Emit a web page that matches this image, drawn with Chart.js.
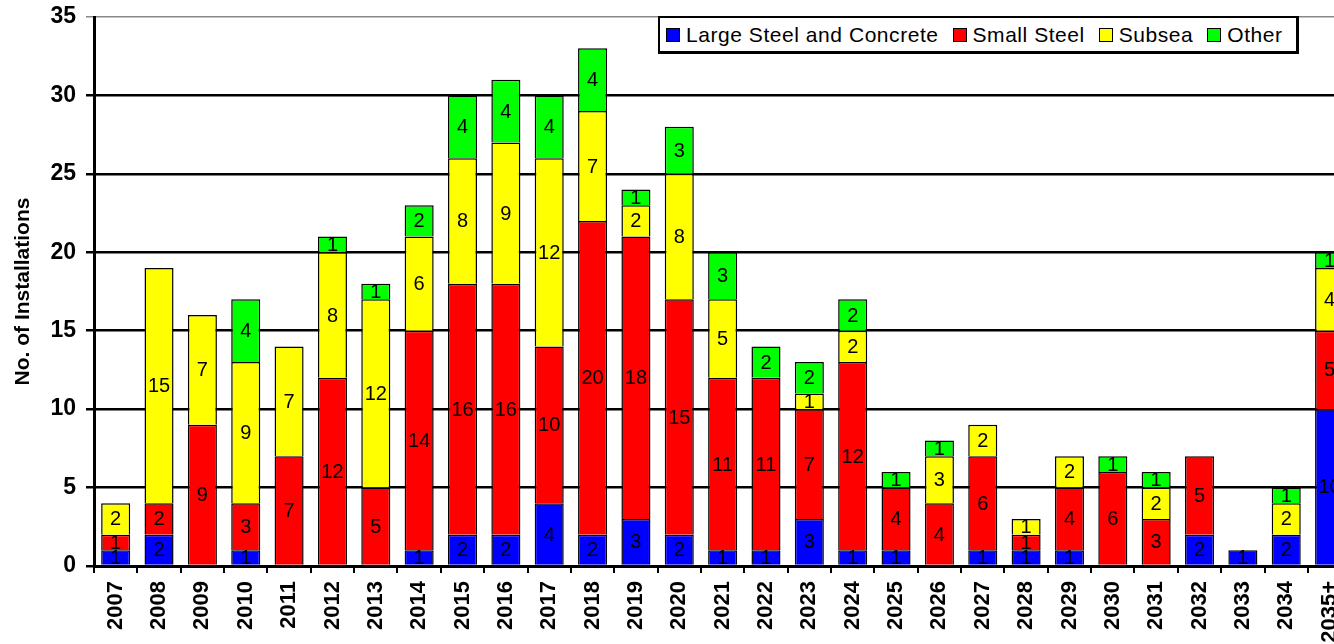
<!DOCTYPE html>
<html>
<head>
<meta charset="utf-8">
<script src="https://cdn.jsdelivr.net/npm/chart.js@4"></script>
<style>
  html, body { margin: 0; padding: 0; background: #fff; overflow: hidden; width: 1334px; height: 644px; }
  #wrap { position: relative; width: 1364px; height: 644px; }
  #legend {
    position: absolute; left: 658px; top: 16px; height: 33px; width: 630px;
    border: 2px solid #000; border-right-width: 3px; border-bottom-width: 3px;
    background: #fff; display: flex; align-items: center; box-sizing: content-box;
    font-family: "Liberation Sans", Arial, sans-serif; font-size: 21px; letter-spacing: 0.55px; color: #000;
    padding-left: 6px;
  }
  .item { display: flex; align-items: center; margin-right: 14px; white-space: nowrap; }
  .sw { width: 12px; height: 12px; border: 1px solid #000; margin-right: 6px; }
</style>
</head>
<body>
<div id="wrap">
  <canvas id="c" width="1364" height="644"></canvas>
  <div id="legend"></div>
</div>
<script>
const categories = ["2007","2008","2009","2010","2011","2012","2013","2014","2015","2016","2017","2018","2019","2020","2021","2022","2023","2024","2025","2026","2027","2028","2029","2030","2031","2032","2033","2034","2035+"];
const largeSteelConcrete = [1,2,0,1,0,0,0,1,2,2,4,2,3,2,1,1,3,1,1,0,1,1,1,0,0,2,1,2,10];
const smallSteel         = [1,2,9,3,7,12,5,14,16,16,10,20,18,15,11,11,7,12,4,4,6,1,4,6,3,5,0,0,5];
const subsea             = [2,15,7,9,7,8,12,6,8,9,12,7,2,8,5,0,1,2,0,3,2,1,2,0,2,0,0,2,4];
const other              = [0,0,0,4,0,1,1,2,4,4,4,4,1,3,3,2,2,2,1,1,0,0,0,1,1,0,0,1,1];
const seriesNames = ["Large Steel and Concrete","Small Steel","Subsea","Other"];
const seriesColors = ["#0000ff","#ff0000","#ffff00","#00ff00"];
const yTicks = [0,5,10,15,20,25,30,35];

const seriesData = [largeSteelConcrete, smallSteel, subsea, other];

const segLabels = {
  id: 'segLabels',
  afterDatasetsDraw(chart) {
    const ctx = chart.ctx;
    ctx.save();
    ctx.font = '20px "Liberation Sans", Arial, sans-serif';
    ctx.fillStyle = '#000';
    ctx.textAlign = 'center';
    ctx.textBaseline = 'middle';
    chart.data.datasets.forEach((ds, di) => {
      const meta = chart.getDatasetMeta(di);
      meta.data.forEach((el, i) => {
        const v = ds.data[i];
        if (!v) return;
        const p = el.getProps(['x','y','base'], true);
        ctx.fillText(String(v), p.x, (p.y + p.base) / 2 + 1);
      });
    });
    ctx.restore();
  }
};

const chart = new Chart(document.getElementById('c'), {
  type: 'bar',
  data: {
    labels: categories,
    datasets: seriesData.map((d, i) => ({
      label: seriesNames[i],
      data: d,
      backgroundColor: seriesColors[i],
      borderColor: '#000',
      borderWidth: 1.5,
      barPercentage: 0.67,
      categoryPercentage: 1.0
    }))
  },
  options: {
    responsive: false,
    devicePixelRatio: 1,
    animation: false,
    layout: { padding: { left: 0, right: 1, top: 17, bottom: 0 } },
    plugins: { legend: { display: false }, tooltip: { enabled: false } },
    scales: {
      x: {
        stacked: true,
        afterFit(s) { s.height = 78; },
        grid: { display: true, drawOnChartArea: false, drawTicks: true, tickLength: 7, color: '#000', lineWidth: 2, offset: true },
        border: { display: true, color: '#000', width: 3 },
        ticks: {
          minRotation: 90, maxRotation: 90, autoSkip: false, padding: 8,
          color: '#000',
          font: { family: '"Liberation Sans", Arial, sans-serif', size: 22, weight: 'bold' }
        }
      },
      y: {
        stacked: true,
        min: 0, max: 35,
        afterFit(s) { s.width = 94; s.paddingTop = 0; s.paddingBottom = 0; },
        afterBuildTicks(s) { s.ticks = yTicks.map(v => ({ value: v })); },
        grid: {
          drawTicks: true, tickLength: 8,
          color: c => (c.tick && c.tick.value === 35) ? '#888' : '#000',
          lineWidth: c => (c.tick && c.tick.value === 35) ? 1.5 : 2.5
        },
        border: { display: true, color: '#000', width: 3 },
        ticks: {
          padding: 10, color: '#000',
          font: { family: '"Liberation Sans", Arial, sans-serif', size: 23, weight: 'bold' }
        },
        title: {
          display: true, text: 'No. of Installations', color: '#000',
          padding: { top: 11, bottom: 0 },
          font: { family: '"Liberation Sans", Arial, sans-serif', size: 21, weight: 'bold' }
        }
      }
    }
  },
  plugins: [segLabels]
});

const leg = document.getElementById('legend');
seriesNames.forEach((n, i) => {
  const it = document.createElement('div');
  it.className = 'item';
  const sw = document.createElement('div');
  sw.className = 'sw';
  sw.style.background = seriesColors[i];
  const tx = document.createElement('span');
  tx.textContent = n;
  it.appendChild(sw); it.appendChild(tx);
  leg.appendChild(it);
});
</script>
</body>
</html>
